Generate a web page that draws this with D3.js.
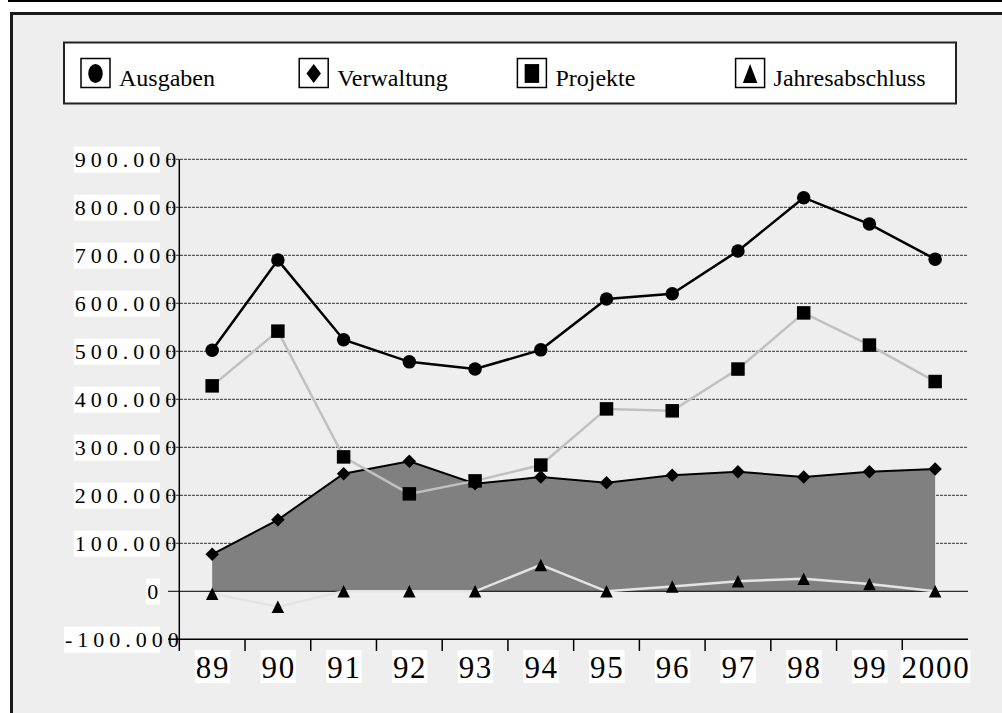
<!DOCTYPE html>
<html>
<head>
<meta charset="utf-8">
<script src="https://cdn.jsdelivr.net/npm/d3@7"></script>
<style>
  body { margin: 0; background: #fff; }
  svg { display: block; }
  text { font-family: "Liberation Serif", "Times New Roman", serif; fill: #000; }
</style>
</head>
<body>
<div id="chart"></div>
<script>
// values
const years = ["89", "90", "91", "92", "93", "94", "95", "96", "97", "98", "99", "2000"];
const ausgaben = [502000, 690000, 524000, 478000, 463000, 503000, 609000, 620000, 709000, 820000, 765000, 692000];
const verwaltung = [77000, 149000, 245000, 271000, 224000, 238000, 226000, 242000, 249000, 238000, 249000, 255000];
const projekte = [428000, 542000, 280000, 203000, 230000, 263000, 380000, 376000, 463000, 580000, 513000, 437000];
const jahresabschluss = [-5000, -32000, 0, 0, 0, 55000, 0, 10000, 21000, 26000, 15000, 0];
const yTicks = [-100000, 0, 100000, 200000, 300000, 400000, 500000, 600000, 700000, 800000, 900000];
const legendNames = ["Ausgaben", "Verwaltung", "Projekte", "Jahresabschluss"];

const width = 1002,
    height = 713;

const de = d3.formatLocale({ decimal: ",", thousands: ".", grouping: [3], currency: ["", " €"], minus: "-" });
const fmt = de.format(",");

const svg = d3
    .select("#chart")
    .append("svg")
    .attr("width", width)
    .attr("height", height)
    .attr("viewBox", [0, 0, width, height]);

// frame
svg.append("rect").attr("x", 8).attr("y", 0).attr("width", width).attr("height", 2).attr("fill", "#000");
svg.append("rect")
    .attr("x", 11.5).attr("y", 13.5)
    .attr("width", width).attr("height", height)
    .attr("fill", "#eeeeee")
    .attr("stroke", "#1a1a1a")
    .attr("stroke-width", 3);

// markers
function marker(type, s) {
    const p = d3.path();
    if (type == "circle") {
        p.arc(0, 0, s / 2, 0, 2 * Math.PI);
    } else if (type == "diamond") {
        p.moveTo(0, -s / 2); p.lineTo(s / 2, 0); p.lineTo(0, s / 2); p.lineTo(-s / 2, 0); p.closePath();
    } else if (type == "square") {
        p.rect(-s / 2, -s / 2, s, s);
    } else {
        p.moveTo(0, -s / 2); p.lineTo(s / 2, s / 2); p.lineTo(-s / 2, s / 2); p.closePath();
    }
    return p.toString();
}

// legend
const legend = svg.append("g");
legend.append("rect")
    .attr("x", 64).attr("y", 42.5)
    .attr("width", 892).attr("height", 61)
    .attr("fill", "#fff")
    .attr("stroke", "#222")
    .attr("stroke-width", 2);
const legendTypes = ["circle", "diamond", "square", "triangle"];
const lx = d3.scaleLinear().domain([0, 1]).range([81, 299.2]);
const items = legend.selectAll("g.item")
    .data(legendNames)
    .join("g")
    .attr("class", "item")
    .attr("transform", (d, i) => `translate(${lx(i)},58.5)`);
items.append("rect")
    .attr("width", 29).attr("height", 29)
    .attr("fill", "#fff")
    .attr("stroke", "#000")
    .attr("stroke-width", 1.5);
items.append("path")
    .attr("transform", "translate(14.5,15) scale(1,1.3)")
    .attr("d", (d, i) => marker(legendTypes[i], 14.5))
    .attr("fill", "#000");
items.append("text")
    .attr("x", 38)
    .attr("y", 27.5)
    .style("font-size", "24px")
    .text((d) => d);

// scales
const x = d3.scaleBand().domain(years).range([179.3, 968]);
const y = d3.scaleLinear().domain([-100000, 900000]).range([639.3, 159.3]);
const cx = (d, i) => x(years[i]) + x.bandwidth() / 2;

// gridlines
svg.append("g")
    .selectAll("line")
    .data(yTicks.filter((d) => d > 0))
    .join("line")
    .attr("x1", 168).attr("x2", 968)
    .attr("y1", (d) => y(d)).attr("y2", (d) => y(d))
    .attr("stroke", "#333")
    .attr("stroke-width", 1)
    .attr("stroke-dasharray", "3,1");

// Verwaltung area
svg.append("path")
    .datum(verwaltung)
    .attr("fill", "#808080")
    .attr("d", d3.area().x(cx).y0(y(0)).y1((d) => y(d)));

// zero line
svg.append("line")
    .attr("x1", 168).attr("x2", 968)
    .attr("y1", y(0)).attr("y2", y(0))
    .attr("stroke", "#000").attr("stroke-width", 1);

// axes
svg.append("line")
    .attr("x1", 179.3).attr("x2", 179.3)
    .attr("y1", y(900000)).attr("y2", 651)
    .attr("stroke", "#000").attr("stroke-width", 1.5);
svg.append("line")
    .attr("x1", 168).attr("x2", 968)
    .attr("y1", y(-100000)).attr("y2", y(-100000))
    .attr("stroke", "#000").attr("stroke-width", 1.5);
svg.append("g")
    .selectAll("line")
    .data(years.slice(1))
    .join("line")
    .attr("x1", (d) => x(d)).attr("x2", (d) => x(d))
    .attr("y1", y(-100000)).attr("y2", 651)
    .attr("stroke", "#000").attr("stroke-width", 1.5);

// y labels
const yl = svg.append("g")
    .selectAll("g")
    .data(yTicks)
    .join("g");
yl.append("rect").attr("fill", "#fff");
yl.append("text")
    .attr("y", (d) => y(d) + 7.4)
    .style("font-size", "22px")
    .style("letter-spacing", "5px")
    .text((d) => fmt(d));
yl.each(function (d) {
    const g = d3.select(this);
    const t = g.select("text");
    const w = t.node().getComputedTextLength();
    const x0 = 160 - 0.8 * w;
    t.attr("x", x0);
    g.select("rect")
        .attr("x", x0 - 1).attr("y", y(d) - 12.6)
        .attr("width", 160 - x0 + 1).attr("height", 26);
});

// x labels
const xl = svg.append("g")
    .selectAll("g")
    .data(years)
    .join("g");
xl.append("rect").attr("fill", "#fff");
xl.append("text")
    .attr("x", (d) => x(d) + x.bandwidth() / 2 + 0.8)
    .attr("y", 677.5)
    .attr("text-anchor", "middle")
    .style("font-size", "31px")
    .style("letter-spacing", "1.7px")
    .text((d) => d);
xl.each(function () {
    const g = d3.select(this);
    const b = g.select("text").node().getBBox();
    g.select("rect")
        .attr("x", b.x - 1).attr("y", 650)
        .attr("width", b.width + 1).attr("height", 33);
});

// lines
const line = d3.line().x(cx).y((d) => y(d));
svg.append("path").datum(verwaltung).attr("fill", "none").attr("stroke", "#000").attr("stroke-width", 2).attr("d", line);
svg.append("path").datum(projekte).attr("fill", "none").attr("stroke", "#c0c0c0").attr("stroke-width", 2.5).attr("d", line);
svg.append("path").datum(jahresabschluss).attr("fill", "none").attr("stroke", "#e4e4e4").attr("stroke-width", 2.5).attr("d", line);
svg.append("path").datum(ausgaben).attr("fill", "none").attr("stroke", "#000").attr("stroke-width", 2.5).attr("d", line);

// points
const seriesList = [
    { values: verwaltung, type: "diamond", size: 13.5 },
    { values: projekte, type: "square", size: 13.5 },
    { values: jahresabschluss, type: "triangle", size: 12.5 },
    { values: ausgaben, type: "circle", size: 13.5 },
];
for (const s of seriesList) {
    svg.append("g")
        .selectAll("path")
        .data(s.values)
        .join("path")
        .attr("transform", (d, i) => `translate(${cx(d, i)},${y(d)})`)
        .attr("d", marker(s.type, s.size))
        .attr("fill", "#000");
}
</script>
</body>
</html>
